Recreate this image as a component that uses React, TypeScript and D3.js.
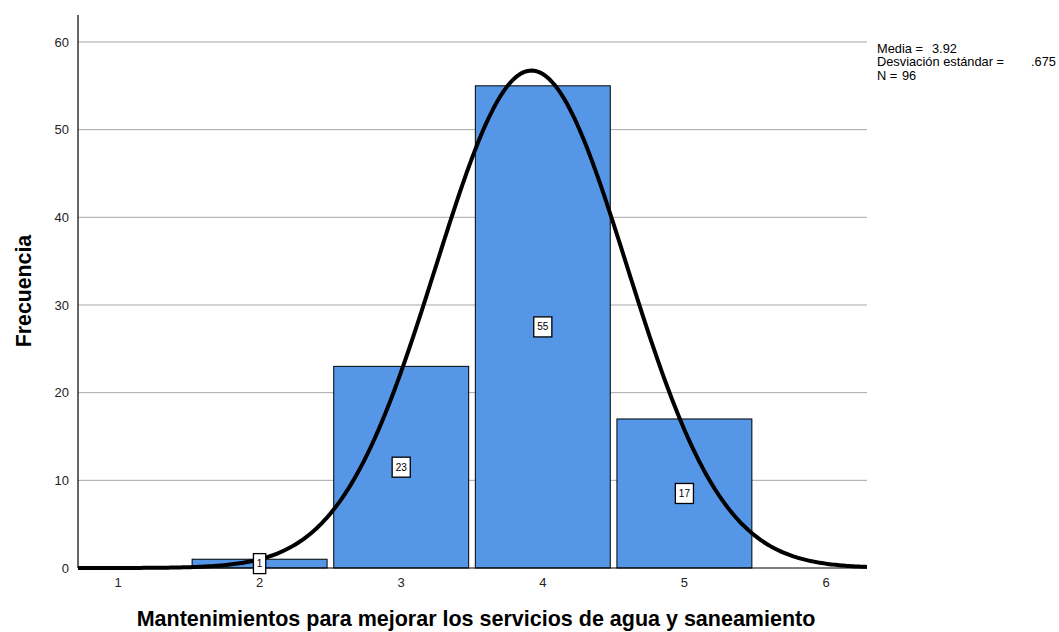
import React from "react";
import * as d3 from "d3";

const categories = [2, 3, 4, 5];
const frequencies = [1, 23, 55, 17];
const xTicks = [1, 2, 3, 4, 5, 6];
const yTicks = [0, 10, 20, 30, 40, 50, 60];
const mean = 3.92;
const sd = 0.675;
const n = 96;
const statLabels = ["Media =", "Desviación estándar =", "N ="];
const statValues = ["3.92", ".675", "96"];

const W = 1059;
const H = 632;
const left = 78;
const right = 867;
const top = 15;
const bottom = 568;

export default function App() {
  const x = d3.scaleLinear().domain([1 - 40 / 141.6, 6 + 41 / 141.6]).range([left, right]);
  const y = d3.scaleLinear().domain([0, (bottom - top) / 8.767]).range([bottom, top]);
  const barW = 0.953;
  const [d0, d1] = x.domain();
  const pts = d3.range(0, 401).map((i) => {
    const v = d0 + ((d1 - d0) * i) / 400;
    const pdf = Math.exp(-0.5 * ((v - mean) / sd) ** 2) / (sd * Math.sqrt(2 * Math.PI));
    return [v, n * pdf] as [number, number];
  });
  const line = d3
    .line<[number, number]>()
    .x((d) => x(d[0]))
    .y((d) => y(d[1]));
  const font = "'Liberation Sans', Arial, sans-serif";
  const valueX = [932, 1031, 902];
  return (
    <svg width={W} height={H} style={{ position: "absolute", left: 0, top: 0, background: "#fff" }} fontFamily={font}>
      {yTicks.filter((t) => t > 0).map((t) => (
        <line key={t} x1={left} x2={right} y1={y(t)} y2={y(t)} stroke="#a8a8a8" strokeWidth={1} />
      ))}
      {yTicks.map((t) => (
        <text key={t} x={69} y={y(t)} dy="0.35em" textAnchor="end" fontSize={13} fill="#222">
          {t}
        </text>
      ))}
      {xTicks.map((t) => (
        <text key={t} x={x(t)} y={587} textAnchor="middle" fontSize={13} fill="#222">
          {t}
        </text>
      ))}
      {categories.map((c, i) => (
        <rect
          key={c}
          x={x(c - barW / 2)}
          y={y(frequencies[i])}
          width={x(c + barW / 2) - x(c - barW / 2)}
          height={y(0) - y(frequencies[i])}
          fill="#5596e6"
          stroke="#000"
          strokeWidth={1}
        />
      ))}
      <line x1={left} x2={right} y1={bottom} y2={bottom} stroke="#000" strokeWidth={1.2} />
      <line x1={left} x2={left} y1={top} y2={bottom} stroke="#000" strokeWidth={1.2} />
      <path d={line(pts) || ""} fill="none" stroke="#000" strokeWidth={4} />
      {categories.map((c, i) => {
        const label = String(frequencies[i]);
        const bw = label.length * 5.8 + 6.5;
        const cy = y(frequencies[i] / 2);
        return (
          <g key={c}>
            <rect x={x(c) - bw / 2} y={cy - 10} width={bw} height={20} fill="#fff" stroke="#000" strokeWidth={1.3} />
            <text x={x(c)} y={cy} dy="0.35em" textAnchor="middle" fontSize={10} fill="#000">
              {label}
            </text>
          </g>
        );
      })}
      <text
        transform={`translate(31,291) rotate(-90)`}
        textAnchor="middle"
        fontSize={21.3}
        fontWeight="bold"
        fill="#000"
      >
        Frecuencia
      </text>
      <text x={476} y={626} textAnchor="middle" fontSize={21.5} fontWeight="bold" fill="#000">
        Mantenimientos para mejorar los servicios de agua y saneamiento
      </text>
      {statLabels.map((s, i) => (
        <text key={"l" + i} x={877} y={52.5 + i * 13.5} fontSize={12.8} fill="#000">
          {s}
        </text>
      ))}
      {statValues.map((s, i) => (
        <text key={"v" + i} x={valueX[i]} y={52.5 + i * 13.5} fontSize={12.8} fill="#000">
          {s}
        </text>
      ))}
    </svg>
  );
}
